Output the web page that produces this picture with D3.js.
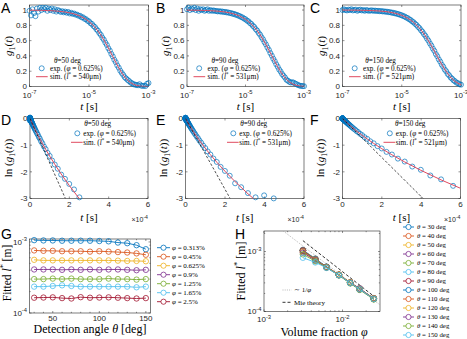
<!DOCTYPE html>
<html>
<head>
<meta charset="utf-8">
<script src="https://cdn.jsdelivr.net/npm/d3@7"></script>
<style>
  body { margin: 0; background: #fff; }
  svg { display: block; }
</style>
</head>
<body>
<svg id="fig" width="467" height="339"></svg>
<script>
// ---- data -------------------------------------------------------------
// log10 of correlation times for the measured points and the simulation
const tExpGrid = [
  -7.00, -6.95, -6.90, -6.85, -6.80, -6.75, -6.70, -6.65, -6.60, -6.55,
  -6.50, -6.45, -6.40, -6.35, -6.30, -6.25, -6.20, -6.15, -6.10, -6.05,
  -6.00, -5.95, -5.90, -5.85, -5.80, -5.75, -5.70, -5.65, -5.60, -5.55,
  -5.50, -5.45, -5.40, -5.35, -5.30, -5.25, -5.20, -5.15, -5.10, -5.05,
  -5.00, -4.95, -4.90, -4.85, -4.80, -4.75, -4.70, -4.65, -4.60, -4.55,
  -4.50, -4.45, -4.40, -4.35, -4.30, -4.25, -4.20, -4.15, -4.10, -4.05,
  -4.00, -3.95, -3.90, -3.85, -3.80, -3.75, -3.70, -3.65, -3.60, -3.55,
  -3.50, -3.45, -3.40, -3.35, -3.30, -3.25, -3.20, -3.15, -3.10, -3.05,
  -3.00
];
const tSimGrid = [
  -7.0, -6.9, -6.8, -6.7, -6.6, -6.5, -6.4, -6.3, -6.2, -6.1,
  -6.0, -5.9, -5.8, -5.7, -5.6, -5.5, -5.4, -5.3, -5.2, -5.1,
  -5.0, -4.9, -4.8, -4.7, -4.6, -4.5, -4.4, -4.3, -4.2, -4.1,
  -4.0, -3.9, -3.8, -3.7, -3.6, -3.5, -3.4, -3.3, -3.2, -3.1,
  -3.0
];

// g1(t), experiment (phi = 0.625%)
const expA = [
  0.99, 0.93, 1.01, 0.96, 0.92, 1.02, 0.98, 1.03, 1.00, 1.03,
  1.01, 1.03, 0.99, 1.02, 1.00, 1.02, 0.99, 1.01, 0.98, 1.00,
  0.99, 0.975, 0.985, 0.97, 0.98, 0.965, 0.975, 0.955, 0.965, 0.95,
  0.955, 0.94, 0.94, 0.925, 0.925, 0.905, 0.905, 0.885, 0.88, 0.86,
  0.852, 0.828, 0.818, 0.792, 0.777, 0.748, 0.729, 0.697, 0.674, 0.638,
  0.611, 0.573, 0.543, 0.501, 0.469, 0.426, 0.393, 0.350, 0.318, 0.276,
  0.246, 0.207, 0.178, 0.152, 0.122, 0.104, 0.086, 0.070, 0.052, 0.041,
  0.030, 0.024, 0.019, 0.016, 0.030, 0.012, 0.008, 0.010, 0.006, 0.035,
  0.045
];
const expB = [
  1.01, 1.03, 1.00, 1.02, 1.01, 1.03, 1.00, 1.02, 0.99, 1.01,
  1.00, 1.01, 0.99, 1.00, 1.01, 0.99, 1.00, 0.99, 0.995, 0.99,
  0.988, 0.982, 0.986, 0.979, 0.982, 0.974, 0.977, 0.969, 0.970, 0.961,
  0.962, 0.952, 0.951, 0.941, 0.938, 0.927, 0.922, 0.909, 0.903, 0.888,
  0.880, 0.862, 0.852, 0.831, 0.818, 0.794, 0.778, 0.750, 0.731, 0.700,
  0.677, 0.643, 0.616, 0.579, 0.549, 0.510, 0.478, 0.437, 0.403, 0.363,
  0.330, 0.291, 0.259, 0.223, 0.196, 0.163, 0.140, 0.117, 0.088, 0.076,
  0.061, 0.052, 0.056, 0.050, 0.038, 0.030, 0.018, 0.012, 0.008, 0.006,
  0.004
];
const expC = [
  1.00, 1.01, 1.00, 0.995, 1.005, 1.00, 1.01, 0.995, 1.00, 1.005,
  0.99, 1.00, 1.005, 0.995, 1.00, 0.99, 1.00, 0.995, 0.99, 0.995,
  0.995, 0.990, 0.993, 0.988, 0.990, 0.985, 0.987, 0.982, 0.983, 0.978,
  0.979, 0.973, 0.973, 0.966, 0.966, 0.958, 0.957, 0.948, 0.946, 0.936,
  0.932, 0.921, 0.915, 0.902, 0.895, 0.879, 0.870, 0.852, 0.840, 0.820,
  0.805, 0.781, 0.763, 0.736, 0.715, 0.685, 0.661, 0.627, 0.600, 0.564,
  0.535, 0.496, 0.466, 0.425, 0.395, 0.355, 0.325, 0.286, 0.259, 0.222,
  0.199, 0.165, 0.146, 0.118, 0.102, 0.080, 0.068, 0.050, 0.043, 0.030,
  0.024
];

// g1(t), simulation
const simA = [
  0.998, 0.998, 0.997, 0.997, 0.996, 0.995, 0.993, 0.992, 0.990, 0.987,
  0.9835, 0.9793, 0.9740, 0.9674, 0.9592, 0.9490, 0.9363, 0.9207, 0.9015, 0.8779,
  0.8494, 0.8151, 0.7744, 0.7267, 0.6716, 0.6094, 0.5409, 0.4675, 0.3915, 0.3160,
  0.2443, 0.1797, 0.1248, 0.0813, 0.0492, 0.0275, 0.0140, 0.0064, 0.0026, 0.0009,
  0.0003
];
const simB = [
  0.9987, 0.9983, 0.9979, 0.9974, 0.9967, 0.9958, 0.9947, 0.9934, 0.9917, 0.9895,
  0.9868, 0.9835, 0.9793, 0.9740, 0.9674, 0.9592, 0.9490, 0.9364, 0.9208, 0.9016,
  0.8783, 0.8500, 0.8161, 0.7760, 0.7290, 0.6750, 0.6142, 0.5474, 0.4760, 0.4021,
  0.3285, 0.2581, 0.1940, 0.1388, 0.0937, 0.0594, 0.0351, 0.0192, 0.0096, 0.0043,
  0.0018
];
const simC = [
  0.9993, 0.9991, 0.9988, 0.9985, 0.9982, 0.9977, 0.9971, 0.9963, 0.9954, 0.9942,
  0.9927, 0.9909, 0.9885, 0.9856, 0.9819, 0.9773, 0.9715, 0.9643, 0.9554, 0.9444,
  0.9307, 0.9139, 0.8934, 0.8686, 0.8388, 0.8033, 0.7617, 0.7137, 0.6591, 0.5985,
  0.5329, 0.4636, 0.3927, 0.3229, 0.2565, 0.1961, 0.1435, 0.1001, 0.0661, 0.0412,
  0.0240
];

const thetaTop = [50, 90, 150];
const lstarTop = [540, 531, 521];
// time at which the initial-slope (dashed) line reaches ln g1 = -3
const slopeEnd = [1.8e-4, 2.26e-4, 4.1e-4];

// fitted l* [mm] vs detection angle, one row per volume fraction
const angles = [30, 40, 50, 60, 70, 80, 90, 100, 110, 120, 130, 140, 150];
const phiLabels = ['0.313', '0.45', '0.625', '0.9', '1.25', '1.65', '2.5'];
const phiValues = [0.00313, 0.0045, 0.00625, 0.009, 0.0125, 0.0165, 0.025];
const lstarFit = [
  [1.06, 1.05, 1.05, 1.04, 1.04, 1.04, 1.04, 1.03, 1.02, 0.98, 0.96, 0.90, 0.79],
  [0.76, 0.75, 0.75, 0.74, 0.74, 0.74, 0.73, 0.74, 0.73, 0.72, 0.71, 0.69, 0.66],
  [0.56, 0.55, 0.55, 0.55, 0.55, 0.55, 0.55, 0.55, 0.55, 0.545, 0.54, 0.54, 0.535],
  [0.41, 0.41, 0.41, 0.405, 0.41, 0.405, 0.41, 0.405, 0.41, 0.41, 0.405, 0.40, 0.405],
  [0.30, 0.30, 0.305, 0.30, 0.305, 0.30, 0.30, 0.30, 0.305, 0.30, 0.30, 0.295, 0.30],
  [0.235, 0.235, 0.24, 0.245, 0.24, 0.235, 0.235, 0.235, 0.235, 0.235, 0.235, 0.23, 0.235],
  [0.164, 0.165, 0.166, 0.162, 0.160, 0.167, 0.164, 0.165, 0.166, 0.164, 0.162, 0.160, 0.162]
];
const invPhiX = [1.76e-3, 3e-2];
const invPhiY = [2.2e-3, 1.29e-4];
const mieX = [3.13e-3, 2.5e-2];
const mieY = [1.52e-3, 1.8e-4];

// ---- drawing ----------------------------------------------------------
const svg = d3.select('#fig');
const axisColor = '#262626';
const sans = "'Liberation Sans', Arial, sans-serif";
const serif = "'Liberation Serif', 'Times New Roman', serif";
const expColor = '#0072bd';
const simColor = '#e04a5f';
const matlab = ['#0072bd', '#d95319', '#edb120', '#7e2f8e', '#77ac30', '#4dbeee', '#a2142f'];
let clipId = 0;

// text made of parts: [string, style] with style '', 'i', 'sub', 'isub', 'sup', 'isup'
function rich(t, parts, fs) {
  let shift = 0;
  parts.forEach(([s, st]) => {
    st = st || '';
    const ts = t.append('tspan').text(s);
    let target = 0;
    if (st.includes('sub')) target = fs * 0.3;
    if (st.includes('sup')) target = -fs * 0.4;
    ts.attr('dy', target - shift);
    shift = target;
    if (target !== 0) ts.attr('font-size', fs * 0.7);
    if (st.startsWith('i')) ts.attr('font-style', 'italic');
  });
  return t;
}

function pow10(t, e) {
  t.append('tspan').text('10');
  t.append('tspan').attr('dy', -3.5).attr('font-size', 5.8).text(e);
}

function frame(g, x, y) {
  const [x0, x1] = x.range();
  const [yb, yt] = y.range();
  g.append('rect')
    .attr('x', x0).attr('y', yt)
    .attr('width', x1 - x0).attr('height', yb - yt)
    .attr('fill', '#fff')
    .attr('stroke', axisColor)
    .attr('stroke-width', 0.6);
}

function xTicks(g, x, y, vals, len, label, off) {
  const [yb, yt] = y.range();
  vals.forEach(v => {
    const px = x(v);
    g.append('line').attr('x1', px).attr('x2', px).attr('y1', yb).attr('y2', yb - len)
      .attr('stroke', axisColor).attr('stroke-width', 0.5);
    g.append('line').attr('x1', px).attr('x2', px).attr('y1', yt).attr('y2', yt + len)
      .attr('stroke', axisColor).attr('stroke-width', 0.5);
    if (label) {
      const t = g.append('text')
        .attr('x', px).attr('y', yb + off)
        .attr('text-anchor', 'middle')
        .attr('font-family', sans).attr('font-size', 8).attr('fill', axisColor);
      label(t, v);
    }
  });
}

function yTicks(g, x, y, vals, len, label) {
  const [x0, x1] = x.range();
  vals.forEach(v => {
    const py = y(v);
    g.append('line').attr('x1', x0).attr('x2', x0 + len).attr('y1', py).attr('y2', py)
      .attr('stroke', axisColor).attr('stroke-width', 0.5);
    g.append('line').attr('x1', x1).attr('x2', x1 - len).attr('y1', py).attr('y2', py)
      .attr('stroke', axisColor).attr('stroke-width', 0.5);
    if (label) {
      const t = g.append('text')
        .attr('x', x0 - 2.5).attr('y', py + 2.8)
        .attr('text-anchor', 'end')
        .attr('font-family', sans).attr('font-size', 8).attr('fill', axisColor);
      label(t, v);
    }
  });
}

function clipFor(g, x, y) {
  const id = 'clip' + (clipId++);
  const [x0, x1] = x.range();
  const [yb, yt] = y.range();
  g.append('clipPath').attr('id', id).append('rect')
    .attr('x', x0).attr('y', yt).attr('width', x1 - x0).attr('height', yb - yt);
  return 'url(#' + id + ')';
}

function letter(txt, x, y) {
  svg.append('text').attr('x', x).attr('y', y)
    .attr('font-family', sans).attr('font-size', 14).attr('fill', '#000')
    .text(txt);
}

function serifText(g, x, y, size, anchor) {
  return g.append('text').attr('x', x).attr('y', y)
    .attr('font-family', serif).attr('font-size', size)
    .attr('text-anchor', anchor || 'start').attr('fill', '#000');
}

function expLegend(g, cx, titleY, row1, row2, circleX, textX, lineX0, lineX1, i) {
  rich(serifText(g, cx, titleY + 2.4, 7.2, 'middle'),
    [['\u03b8', 'i'], ['=' + thetaTop[i] + ' deg']], 7.2);
  g.append('circle').attr('cx', circleX).attr('cy', row1).attr('r', 2.5)
    .attr('fill', 'none').attr('stroke', expColor).attr('stroke-width', 0.7);
  rich(serifText(g, textX, row1 + 2.4, 7.2),
    [['exp. ('], ['\u03c6', 'i'], [' = 0.625%)']], 7.2);
  g.append('line').attr('x1', lineX0).attr('x2', lineX1).attr('y1', row2).attr('y2', row2)
    .attr('stroke', simColor).attr('stroke-width', 1);
  rich(serifText(g, textX, row2 + 2.4, 7.2),
    [['sim. ('], ['l', 'i'], ['*', 'sup'], [' = ' + lstarTop[i] + '\u03bcm)']], 7.2);
}

const expSets = [expA, expB, expC];
const simSets = [simA, simB, simC];
const colsTop = [[29.5, 148.5], [187, 304], [342.5, 461]];
const colsMid = [[30, 148], [185.5, 304], [342.5, 460.5]];
const letters = [['A', 'B', 'C'], ['D', 'E', 'F']];
const letterX = [1, 156, 310];

// ---- A, B, C : g1(t) on log time ----
colsTop.forEach((cols, i) => {
  const g = svg.append('g');
  const x = d3.scaleLog().domain([1e-7, 1e-3]).range(cols);
  const y = d3.scaleLinear().domain([0, 1.066]).range([86.5, 5]);
  frame(g, x, y);
  xTicks(g, x, y, [1e-7, 1e-5, 1e-3], 2, (t, v) => pow10(t, String(Math.round(Math.log10(v)))), 11);
  yTicks(g, x, y, [0, 0.2, 0.4, 0.6, 0.8, 1], 2, (t, v) => t.text(v));
  const clip = clipFor(g, x, y);

  g.append('g').selectAll('circle')
    .data(tExpGrid.map((e, k) => [Math.pow(10, e), expSets[i][k]]))
    .enter().append('circle')
    .attr('cx', d => x(d[0])).attr('cy', d => y(d[1])).attr('r', 2.5)
    .attr('fill', 'none').attr('stroke', expColor).attr('stroke-width', 0.7);

  const line = d3.line().x(d => x(d[0])).y(d => y(d[1]));
  g.append('path')
    .datum(tSimGrid.map((e, k) => [Math.pow(10, e), simSets[i][k]]))
    .attr('d', line).attr('fill', 'none')
    .attr('stroke', simColor).attr('stroke-width', 1).attr('clip-path', clip);

  const L = cols[0];
  expLegend(g, L + 38, 60.7, 68.3, 76.7, L + 12.2, L + 20.5, L + 6.5, L + 18.2, i);

  const xm = (cols[0] + cols[1]) / 2;
  rich(serifText(g, xm, 109.5, 11, 'middle'), [['t', 'i'], [' [s]']], 11);
  rich(serifText(g, 0, 0, 11, 'middle').attr('transform', 'translate(' + (L - 18) + ',46) rotate(-90)'),
    [['g', 'i'], ['1', 'sub'], ['('], ['t', 'i'], [')']], 11);
  letter(letters[0][i], letterX[i], 13);
});

// ---- D, E, F : ln g1(t) on linear time ----
colsMid.forEach((cols, i) => {
  const g = svg.append('g');
  const x = d3.scaleLinear().domain([0, 6e-4]).range(cols);
  const y = d3.scaleLinear().domain([-3, 0]).range([198.5, 118.5]);
  frame(g, x, y);
  xTicks(g, x, y, [0, 2e-4, 4e-4, 6e-4], 2, (t, v) => t.text(Math.round(v * 1e4)), 8.5);
  yTicks(g, x, y, [-3, -2, -1, 0], 2, (t, v) => t.text(v));
  const clip = clipFor(g, x, y);

  const pts = tExpGrid.map((e, k) => [Math.pow(10, e), Math.log(expSets[i][k])])
    .filter(d => d[0] <= 6e-4 && d[1] >= -3.05);
  g.append('g').selectAll('circle').data(pts).enter().append('circle')
    .attr('cx', d => x(d[0])).attr('cy', d => y(d[1])).attr('r', 2.5)
    .attr('fill', 'none').attr('stroke', expColor).attr('stroke-width', 0.7);

  const line = d3.line().x(d => x(d[0])).y(d => y(d[1]));
  g.append('path')
    .datum([[0, 0]].concat(tSimGrid.map((e, k) => [Math.pow(10, e), Math.log(simSets[i][k])])))
    .attr('d', line).attr('fill', 'none')
    .attr('stroke', simColor).attr('stroke-width', 1).attr('clip-path', clip);
  g.append('path')
    .datum([[0, 0], [slopeEnd[i], -3]])
    .attr('d', line).attr('fill', 'none')
    .attr('stroke', '#000').attr('stroke-width', 0.7).attr('stroke-dasharray', '2.5,1.8')
    .attr('clip-path', clip);

  const R = cols[1];
  expLegend(g, R - 50.3, 124, 133.3, 142.3, R - 70.7, R - 64.7, R - 77, R - 65.3, i);

  const xm = (cols[0] + cols[1]) / 2;
  rich(serifText(g, xm, 221, 11, 'middle'), [['t', 'i'], [' [s]']], 11);
  const ex = g.append('text').attr('x', R).attr('y', 221.5).attr('text-anchor', 'end')
    .attr('font-family', sans).attr('font-size', 7).attr('fill', axisColor);
  ex.append('tspan').text('\u00d710');
  ex.append('tspan').attr('dy', -3).attr('font-size', 5.2).text('-4');
  rich(serifText(g, 0, 0, 11, 'middle').attr('transform', 'translate(' + (cols[0] - 18.5) + ',158) rotate(-90)'),
    [['ln ('], ['g', 'i'], ['1', 'sub'], ['('], ['t', 'i'], ['))']], 11);
  letter(letters[1][i], letterX[i], 125);
});

// ---- G : l* vs detection angle ----
{
  const g = svg.append('g');
  const x = d3.scaleLinear().domain([25, 155]).range([29.5, 150.5]);
  const y = d3.scaleLog().domain([1e-4, 1.1e-3]).range([313, 239]);
  frame(g, x, y);
  xTicks(g, x, y, [50, 100, 150], 2, (t, v) => t.text(v), 8);
  xTicks(g, x, y, [30, 40, 60, 70, 80, 90, 110, 120, 130, 140], 1.2, null, 0);
  yTicks(g, x, y, [1e-4, 1e-3], 2, (t, v) => pow10(t, String(Math.round(Math.log10(v)))));
  yTicks(g, x, y, [2e-4, 3e-4, 4e-4, 5e-4, 6e-4, 7e-4, 8e-4, 9e-4], 1.2, null);

  const line = d3.line().x(d => x(d[0])).y(d => y(d[1]));
  lstarFit.forEach((row, i) => {
    const c = matlab[i % 7];
    const pts = angles.map((a, k) => [a, row[k] * 1e-3]);
    g.append('path').datum(pts).attr('d', line).attr('fill', 'none')
      .attr('stroke', c).attr('stroke-width', 0.9);
    g.append('g').selectAll('circle').data(pts).enter().append('circle')
      .attr('cx', d => x(d[0])).attr('cy', d => y(d[1])).attr('r', 2.7)
      .attr('fill', 'none').attr('stroke', c).attr('stroke-width', 0.8);
    const ly = 247.7 + 9 * i;
    g.append('line').attr('x1', 157).attr('x2', 170).attr('y1', ly).attr('y2', ly)
      .attr('stroke', c).attr('stroke-width', 0.9);
    g.append('circle').attr('cx', 163.5).attr('cy', ly).attr('r', 2.6)
      .attr('fill', '#fff').attr('stroke', c).attr('stroke-width', 0.8);
    rich(serifText(g, 172, ly + 2.4, 7), [['\u03c6', 'i'], [' = ' + phiLabels[i] + '%']], 7);
  });

  rich(serifText(g, 90, 332.5, 12, 'middle'),
    [['Detection angle '], ['\u03b8', 'i'], [' [deg]']], 12);
  rich(serifText(g, 0, 0, 11.5, 'middle').attr('transform', 'translate(10.5,273) rotate(-90)'),
    [['Fitted '], ['l', 'i'], ['*', 'sup'], [' [m]']], 11.5);
  letter('G', 1, 239);
}

// ---- H : l* vs volume fraction ----
{
  const g = svg.append('g');
  const x = d3.scaleLog().domain([1e-3, 3e-2]).range([264, 380]);
  const y = d3.scaleLog().domain([1e-4, 2.2e-3]).range([311.5, 231]);
  frame(g, x, y);
  xTicks(g, x, y, [1e-3, 1e-2], 2, (t, v) => pow10(t, String(Math.round(Math.log10(v)))), 10.5);
  xTicks(g, x, y, [2e-3, 3e-3, 4e-3, 5e-3, 6e-3, 7e-3, 8e-3, 9e-3, 2e-2], 1.2, null, 0);
  yTicks(g, x, y, [1e-4, 1e-3], 2, (t, v) => pow10(t, String(Math.round(Math.log10(v)))));
  yTicks(g, x, y, [2e-4, 3e-4, 4e-4, 5e-4, 6e-4, 7e-4, 8e-4, 9e-4, 2e-3], 1.2, null);
  const clip = clipFor(g, x, y);

  const line = d3.line().x(d => x(d[0])).y(d => y(d[1]));
  g.append('path').datum(invPhiX.map((p, k) => [p, invPhiY[k]]))
    .attr('d', line).attr('fill', 'none').attr('stroke', '#9a9a9a')
    .attr('stroke-width', 0.7).attr('stroke-dasharray', '1,1.2').attr('clip-path', clip);
  g.append('path').datum(mieX.map((p, k) => [p, mieY[k]]))
    .attr('d', line).attr('fill', 'none').attr('stroke', '#000')
    .attr('stroke-width', 0.8).attr('stroke-dasharray', '3,2').attr('clip-path', clip);

  angles.forEach((a, j) => {
    const c = matlab[j % 7];
    const pts = phiValues.map((p, i) => [p, lstarFit[i][j] * 1e-3]);
    g.append('path').datum(pts).attr('d', line).attr('fill', 'none')
      .attr('stroke', c).attr('stroke-width', 0.9);
    g.append('g').selectAll('circle').data(pts).enter().append('circle')
      .attr('cx', d => x(d[0])).attr('cy', d => y(d[1])).attr('r', 2.8)
      .attr('fill', 'none').attr('stroke', c).attr('stroke-width', 0.8);
    const ly = 227 + 9 * j;
    g.append('line').attr('x1', 403).attr('x2', 414).attr('y1', ly).attr('y2', ly)
      .attr('stroke', c).attr('stroke-width', 0.9);
    g.append('circle').attr('cx', 408.5).attr('cy', ly).attr('r', 2.6)
      .attr('fill', '#fff').attr('stroke', c).attr('stroke-width', 0.8);
    rich(serifText(g, 417, ly + 2.4, 6.8), [['\u03b8', 'i'], [' = ' + a + ' deg']], 6.8);
  });

  // inner legend
  g.append('line').attr('x1', 282.5).attr('x2', 291.5).attr('y1', 290).attr('y2', 290)
    .attr('stroke', '#9a9a9a').attr('stroke-width', 0.7).attr('stroke-dasharray', '1,1.2');
  rich(serifText(g, 294, 292.4, 7), [['\u223c 1/'], ['\u03c6', 'i']], 7);
  g.append('line').attr('x1', 282.5).attr('x2', 291.5).attr('y1', 302.3).attr('y2', 302.3)
    .attr('stroke', '#000').attr('stroke-width', 0.8).attr('stroke-dasharray', '3,2');
  serifText(g, 294, 304.7, 7).text('Mie theory');

  rich(serifText(g, 324, 335.5, 12, 'middle'), [['Volume fraction '], ['\u03c6', 'i']], 12);
  rich(serifText(g, 0, 0, 12, 'middle').attr('transform', 'translate(245,271) rotate(-90)'),
    [['Fitted '], ['l', 'i'], ['*', 'sup'], [' [m]']], 12);
  letter('H', 235, 239);
}
</script>
</body>
</html>
